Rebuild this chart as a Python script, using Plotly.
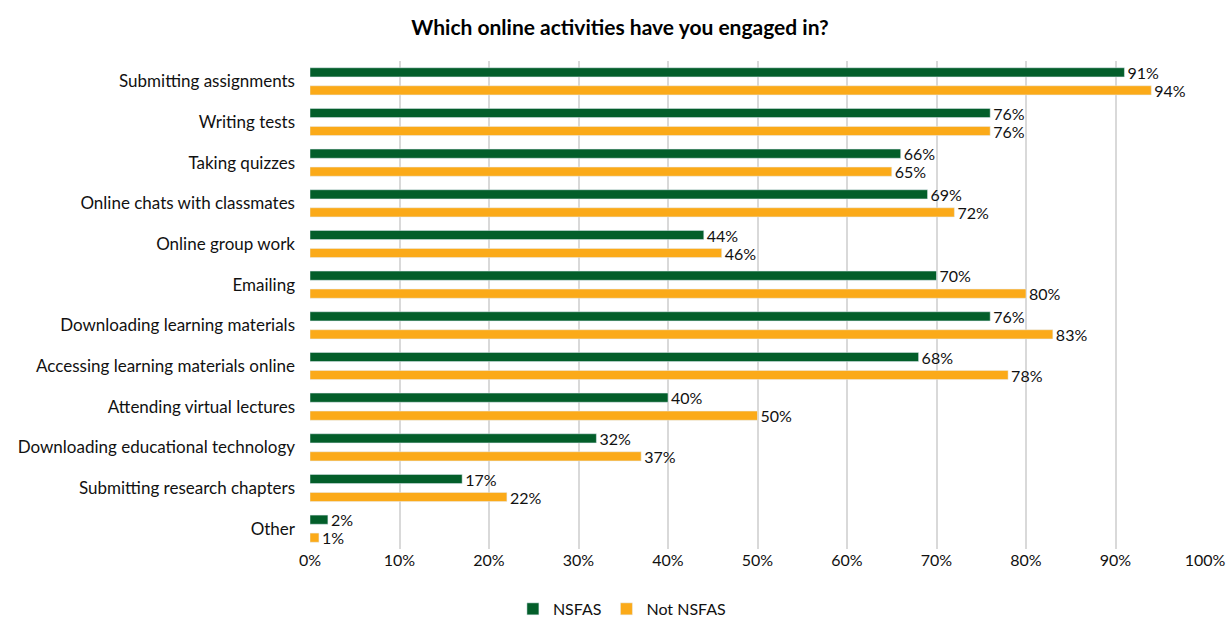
import plotly.graph_objects as go

categories = [
    "Submitting assignments",
    "Writing tests",
    "Taking quizzes",
    "Online chats with classmates",
    "Online group work",
    "Emailing",
    "Downloading learning materials",
    "Accessing learning materials online",
    "Attending virtual lectures",
    "Downloading educational technology",
    "Submitting research chapters",
    "Other",
]
nsfas = [91, 76, 66, 69, 44, 70, 76, 68, 40, 32, 17, 2]
not_nsfas = [94, 76, 65, 72, 46, 80, 83, 78, 50, 37, 22, 1]
x_ticks = [0, 10, 20, 30, 40, 50, 60, 70, 80, 90, 100]

FONT = "Lato"
FS = 17
LFS = 16
fig = go.Figure()
fig.add_trace(go.Bar(
    y=categories, x=nsfas, name="NSFAS", orientation="h",
    marker=dict(color="#035E2A"),
    text=[f"{v}%" for v in nsfas], textposition="outside", constraintext="none",
    textfont=dict(size=LFS, color="#111111", family=FONT),
    cliponaxis=False,
))
fig.add_trace(go.Bar(
    y=categories, x=not_nsfas, name="Not NSFAS", orientation="h",
    marker=dict(color="#FBAA19"),
    text=[f"{v}%" for v in not_nsfas], textposition="outside", constraintext="none",
    textfont=dict(size=LFS, color="#111111", family=FONT),
    cliponaxis=False,
))

fig.update_layout(
    width=1226, height=618,
    margin=dict(l=310, r=21, t=61, b=69, autoexpand=False),
    paper_bgcolor="white", plot_bgcolor="white",
    barmode="group", bargap=0.115, bargroupgap=0.49,
    title=dict(text="<b>Which online activities have you engaged in?</b>",
               x=0.5057, xanchor="center", y=0.956, yanchor="middle",
               font=dict(size=21, color="#000000", family=FONT)),
    font=dict(family=FONT, size=FS, color="#111111"),
    legend=dict(orientation="h", x=0.3485, xanchor="center", y=-0.088, yanchor="top",
                font=dict(size=LFS, color="#111111", family=FONT),
                itemwidth=30, traceorder="normal"),
)
fig.update_xaxes(
    range=[0, 100], tickvals=x_ticks, ticktext=[f"{v}%" for v in x_ticks],
    showgrid=True, gridcolor="#D9D9D9", gridwidth=2,
    zeroline=False, showline=False, ticks="", automargin=False,
    ticklabeloverflow="allow",
    tickfont=dict(size=LFS, color="#111111", family=FONT),
)
fig.update_yaxes(
    autorange="reversed", showgrid=False, zeroline=False, showline=False,
    ticks="", ticklabelstandoff=14, automargin=False,
    tickfont=dict(size=FS, color="#111111", family=FONT),
)

fig.write_html(
    "out.html",
    config={"displayModeBar": False},
    post_script="document.body.style.margin='0';document.body.style.overflow='hidden';",
)
